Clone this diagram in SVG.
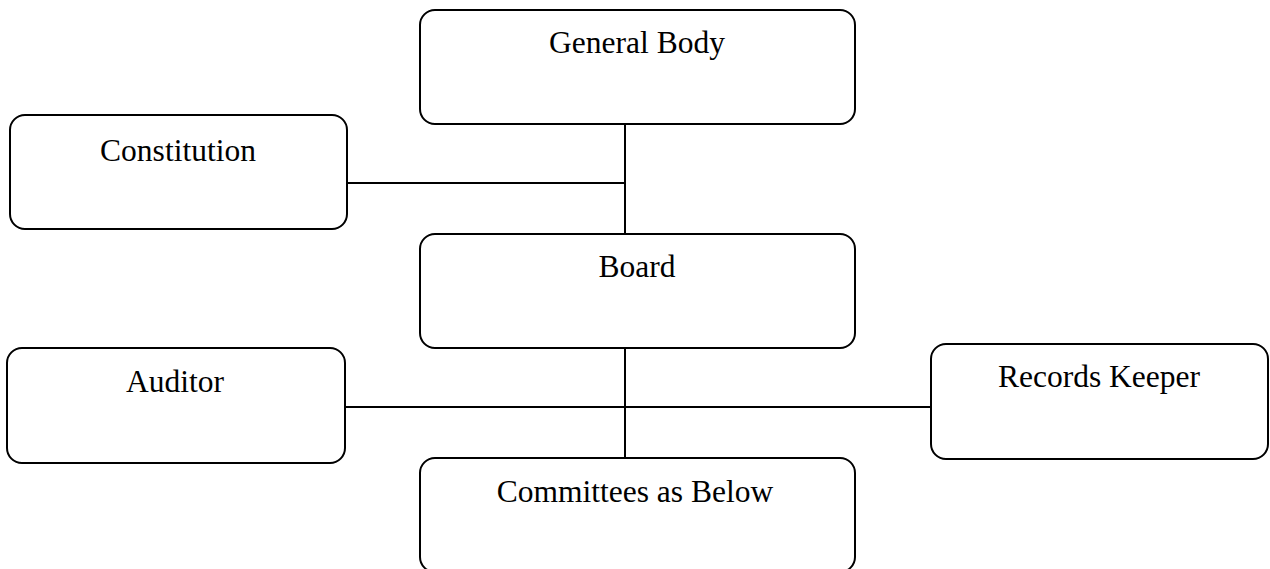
<svg xmlns="http://www.w3.org/2000/svg" width="1270" height="569" viewBox="0 0 1270 569">
<style>
.box{fill:#fff;stroke:#000;stroke-width:2}
.lbl{font-family:"Liberation Serif","Times New Roman",serif;font-size:31.5px;fill:#000;text-anchor:middle}
.conn{stroke:#000;stroke-width:2;fill:none}
</style>
<rect width="1270" height="569" fill="#fff"/>
<g id="connectors">
<line class="conn" x1="625" y1="124" x2="625" y2="234"/>
<line class="conn" x1="347" y1="183" x2="625" y2="183"/>
<line class="conn" x1="625" y1="348" x2="625" y2="458"/>
<line class="conn" x1="345" y1="407" x2="931" y2="407"/>
</g>
<g id="general-body">
<rect class="box" x="420" y="10" width="435" height="114" rx="15"/>
<text class="lbl" x="637" y="53">General Body</text>
</g>
<g id="constitution">
<rect class="box" x="10" y="115" width="337" height="114" rx="15"/>
<text class="lbl" x="178" y="161">Constitution</text>
</g>
<g id="board">
<rect class="box" x="420" y="234" width="435" height="114" rx="15"/>
<text class="lbl" x="637" y="277">Board</text>
</g>
<g id="auditor">
<rect class="box" x="7" y="348" width="338" height="115" rx="15"/>
<text class="lbl" x="175" y="392">Auditor</text>
</g>
<g id="records-keeper">
<rect class="box" x="931" y="344" width="337" height="115" rx="15"/>
<text class="lbl" x="1099" y="387">Records Keeper</text>
</g>
<g id="committees">
<rect class="box" x="420" y="458" width="435" height="114" rx="15"/>
<text class="lbl" x="635" y="502">Committees as Below</text>
</g>
</svg>
